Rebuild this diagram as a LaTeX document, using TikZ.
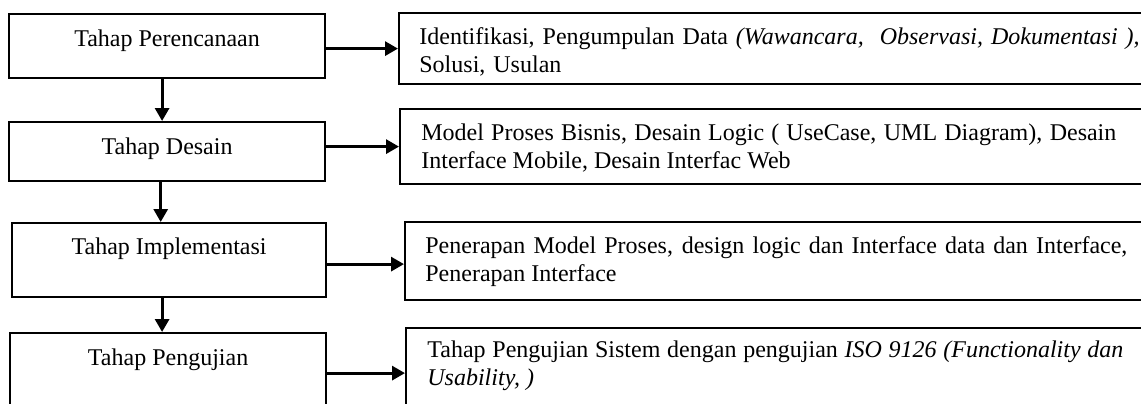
\documentclass[tikz,border=0pt]{standalone}
\usepackage{fontspec}
\setmainfont{Liberation Serif}
\usetikzlibrary{arrows.meta,positioning}
\hyphenpenalty=10000
\exhyphenpenalty=10000

\tikzset{
  stage/.style={draw, line width=1.1pt, anchor=north west, inner sep=0pt, minimum width=158pt},
  stagelabel/.style={anchor=base, inner sep=0pt, font=\fontsize{12}{14}\selectfont},
  detail/.style={draw, line width=1.1pt, anchor=north west, inner sep=0pt, minimum width=385pt},
  detaillabel/.style={anchor=base west, inner sep=0pt, align=justify, font=\fontsize{12}{14}\selectfont},
  flow/.style={line width=1.5pt, -{Triangle[length=6.5pt,width=7pt]}}
}

\begin{document}
\begin{tikzpicture}[x=0.5pt,y=-0.5pt]
	\useasboundingbox (0,0) rectangle (1141,403);
	\clip (0,0) rectangle (1141,403);
	% tahap (kiri)
	\node[stage, minimum height=32pt] (perencanaan) at (8,13) {};
	\node[stage, minimum height=29.5pt] (desain) at (8,121) {};
	\node[stage, minimum height=37pt, minimum width=157pt] (implementasi) at (11,222) {};
	\node[stage, minimum height=45pt] (pengujian) at (9,332) {};
	\node[stagelabel] (perencanaan_t) at ([yshift=-16.5pt]perencanaan.north) {Tahap Perencanaan};
	\node[stagelabel] (desain_t) at ([yshift=-16.5pt]desain.north) {Tahap Desain};
	\node[stagelabel] (implementasi_t) at ([yshift=-16pt]implementasi.north) {Tahap Implementasi};
	\node[stagelabel] (pengujian_t) at ([yshift=-16.5pt]pengujian.north) {Tahap Pengujian};
	% keterangan (kanan)
	\node[detail, minimum height=35.5pt] (identifikasi) at (398,12) {};
	\node[detail, minimum height=37.5pt] (model) at (399,108) {};
	\node[detail, minimum height=39pt] (penerapan) at (404,221) {};
	\node[detail, minimum height=45pt] (ujisistem) at (405,327) {};
	\node[detaillabel, align=left, text width=380pt] (identifikasi_t) at (419,44)
	  {Identifikasi, Pengumpulan Data \textit{(Wawancara,\ \ Observasi, Dokumentasi~),}\\ Solusi, Usulan};
	\node[detaillabel, text width=347.5pt] (model_t) at (421,140)
	  {Model Proses Bisnis, Desain Logic ( UseCase, UML Diagram), Desain Interface Mobile, Desain Interfac Web};
	\node[detaillabel, text width=351pt] (penerapan_t) at (425,253)
	  {Penerapan Model Proses, design logic dan Interface data dan Interface, Penerapan Interface};
	\node[detaillabel, text width=348pt] (ujisistem_t) at (427,357)
	  {Tahap Pengujian Sistem dengan pengujian \textit{ISO 9126 (Functionality dan Usability, )}};
	% alur
	\draw[flow] ([xshift=-2.5pt]perencanaan.south) -- ([xshift=-2.5pt]desain.north);
	\draw[flow] ([xshift=-3.2pt]desain.south) -- ([xshift=-3.2pt]desain.south |- implementasi.north);
	\draw[flow] ([xshift=-3.5pt]implementasi.south) -- ([xshift=-3pt]pengujian.north);
	\draw[flow] (perencanaan.east |- identifikasi.west) -- (identifikasi.west);
	\draw[flow] (desain.east |- model.west) -- (model.west);
	\draw[flow] ([yshift=-1.5pt]implementasi.east |- penerapan.west) -- ([yshift=-1.5pt]penerapan.west);
	\draw[flow] (pengujian.east |- ujisistem.west) -- (ujisistem.west);
\end{tikzpicture}
\end{document}
